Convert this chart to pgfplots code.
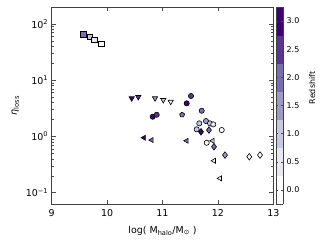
\documentclass[border=0pt]{standalone}
\usepackage{pgfplots}
\pgfplotsset{compat=1.18}
\usepackage{fontspec}
\setmainfont{DejaVu Sans}
\usetikzlibrary{plotmarks}
\definecolor{p0}{RGB}{252,251,253}
\definecolor{p1}{RGB}{232,231,242}
\definecolor{p2}{RGB}{198,199,225}
\definecolor{p3}{RGB}{158,154,200}
\definecolor{p4}{RGB}{121,110,178}
\definecolor{p5}{RGB}{91,53,150}
\definecolor{p6}{RGB}{63,0,125}
\begin{document}
\begin{tikzpicture}
\path[use as bounding box] (-51.7bp,-40bp) rectangle (273.3bp,204bp);
\begin{axis}[
  scale only axis, width=221.6bp, height=197bp,
  xmin=9, xmax=13, ymode=log, ymin=0.063, ymax=200,
  xtick={9,10,11,12,13},
  ytick={0.1,1,10,100},
  yticklabels={10\textsuperscript{−1},10\textsuperscript{0},10\textsuperscript{1},10\textsuperscript{2}},
  /pgf/number format/assume math mode=true,
  tick align=inside, tick pos=both,
  major tick length=4bp, minor tick length=2bp,
  axis line style={line width=0.8bp, black!75},
  every tick/.style={black!70, line width=0.5bp},
  tick label style={font=\fontsize{9.5}{11}\selectfont},
  xticklabel style={yshift=-2bp},
  xlabel={log( M\textsubscript{halo}/M\textsubscript{⊙} )},
  ylabel={{\itshape η}\textsubscript{loss}},
  label style={font=\fontsize{9.5}{11}\selectfont},
  xlabel style={yshift=-3bp},
  colormap={purp}{color=(p0) color=(p1) color=(p2) color=(p3) color=(p4) color=(p5) color=(p6)},
  colormap access=piecewise constant,
  point meta min=-0.25, point meta max=3.25,
  colorbar,
  colorbar style={
    width=7bp, xshift=-15bp,
    ytick={0,0.5,1,1.5,2,2.5,3},
    yticklabels={0.0,0.5,1.0,1.5,2.0,2.5,3.0},
    yticklabel pos=right,
    tick label style={font=\fontsize{8}{9}\selectfont},
    ylabel={Redshift}, ylabel style={font=\fontsize{8}{9}\selectfont, at={(ticklabel cs:0.589,3bp)}},
    major tick length=2bp, tick align=inside,
    axis line style={line width=0.6bp, black!75},
  },
  scatter/use mapped color={draw=black, fill=mapped color},
  every axis plot/.append style={line width=0.6bp},
]
% squares
\addplot[scatter, only marks, scatter src=explicit, mark=square*, mark size=2.8bp] table[meta=z] {
x y z
9.570 65.6 2.0
9.691 58.7 1.0
9.769 51.9 0.5
9.890 44.1 0.0
};
% down triangles
\addplot[scatter, only marks, scatter src=explicit, mark=triangle*, mark size=3bp, mark options={rotate=180}] table[meta=z] {
x y z
10.444 4.77 3.0
10.563 5.02 2.5
10.865 4.77 1.5
11.014 4.45 1.0
11.148 4.14 0.0
};
% circles
\addplot[scatter, only marks, scatter src=explicit, mark=*, mark size=2.6bp] table[meta=z] {
x y z
11.514 5.24 2.5
11.437 3.88 3.0
10.823 2.24 3.0
10.895 2.43 2.5
11.708 2.86 2.0
11.664 1.71 1.0
11.785 1.88 1.5
11.857 1.71 1.0
11.917 1.64 0.5
12.069 1.30 0.0
11.798 0.772 0.0
11.617 1.34 1.0
};
% pentagon
\addplot[scatter, only marks, scatter src=explicit, mark=pentagon*, mark size=2.6bp] table[meta=z] {
x y z
11.354 2.43 2.0
};
% diamonds
\addplot[scatter, only marks, scatter src=explicit, mark=diamond*, mark size=3.3bp] table[meta=z] {
x y z
11.695 1.21 3.0
11.839 1.30 2.0
11.930 0.656 2.0
12.128 0.467 1.5
12.567 0.436 0.0
12.760 0.467 0.0
};
% left triangles
\addplot[scatter, only marks, scatter src=explicit, mark=triangle*, mark size=2.9bp, mark options={rotate=90}] table[meta=z] {
x y z
10.666 0.948 3.0
10.805 0.863 2.0
11.437 0.838 2.0
11.906 0.838 1.0
11.930 0.370 0.0
12.038 0.180 0.0
};
\end{axis}
\end{tikzpicture}
\end{document}
